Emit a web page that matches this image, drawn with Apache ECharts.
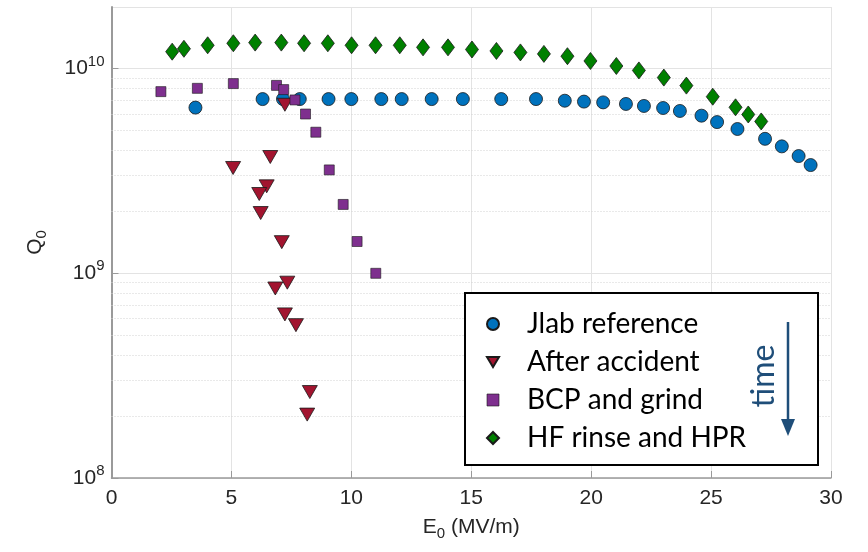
<!DOCTYPE html>
<html>
<head>
<meta charset="utf-8">
<script src="https://cdn.jsdelivr.net/npm/echarts@6/dist/echarts.min.js"></script>
<style>
  html, body { margin: 0; padding: 0; background: #fff; }
  #chart { width: 868px; height: 552px; }
</style>
</head>
<body>
<div id="chart"></div>
<script>
// E0 (MV/m) and Q0
const jlabE = [3.5, 6.3, 7.15, 7.85, 9.05, 10.0, 11.25, 12.1, 13.35, 14.65, 16.25, 17.7, 18.9, 19.7, 20.5, 21.45, 22.2, 23.0, 23.7, 24.6, 25.25, 26.1, 27.25, 27.95, 28.65, 29.15]
const jlabQ = [6.45e9, 7.1e9, 7.1e9, 7.1e9, 7.1e9, 7.1e9, 7.1e9, 7.1e9, 7.1e9, 7.1e9, 7.1e9, 7.1e9, 6.97e9, 6.9e9, 6.84e9, 6.72e9, 6.57e9, 6.42e9, 6.21e9, 5.89e9, 5.48e9, 5.07e9, 4.54e9, 4.17e9, 3.74e9, 3.38e9]

const accE = [5.07, 6.62, 6.47, 6.16, 6.22, 7.23, 7.10, 7.33, 6.83, 7.23, 7.69, 8.27, 8.16]
const accQ = [3.27e9, 3.70e9, 2.66e9, 2.44e9, 1.97e9, 6.66e9, 1.42e9, 9.0e8, 8.43e8, 6.30e8, 5.58e8, 2.63e8, 2.04e8]

const bcpE = [2.06, 3.58, 5.08, 6.88, 7.18, 7.65, 8.09, 8.52, 9.08, 9.66, 10.24, 11.02]
const bcpQ = [7.72e9, 8.01e9, 8.45e9, 8.28e9, 7.9e9, 7.03e9, 6.0e9, 4.89e9, 3.2e9, 2.17e9, 1.43e9, 1.0e9]

const hfE = [2.53, 3.02, 4.01, 5.08, 5.99, 7.08, 8.03, 9.02, 10.01, 11.01, 12.02, 12.99, 14.03, 15.03, 16.05, 17.05, 18.03, 19.01, 19.97, 21.05, 21.99, 23.03, 23.97, 25.07, 26.02, 26.55, 27.09]
const hfQ = [1.21e10, 1.25e10, 1.30e10, 1.33e10, 1.34e10, 1.34e10, 1.33e10, 1.33e10, 1.30e10, 1.30e10, 1.30e10, 1.27e10, 1.27e10, 1.24e10, 1.22e10, 1.20e10, 1.18e10, 1.15e10, 1.09e10, 1.03e10, 9.8e9, 9.04e9, 8.26e9, 7.29e9, 6.47e9, 5.97e9, 5.52e9]

const seriesNames = ['Jlab reference', 'After accident', 'BCP and grind', 'HF rinse and HPR']

// minor grid lines of the log axis (2..9 in each decade)
const decades = [1e8, 1e9, 1e10]
const minorSteps = [2, 3, 4, 5, 6, 7, 8, 9]

const font = 'Liberation Sans, Arial, sans-serif'
const ink = '#262626'
const zip = (xs, ys) => xs.map((x, i) => [x, ys[i]])

const minorLines = []
decades.forEach(d => minorSteps.forEach(m => {
  if (d * m < 2e10) minorLines.push({ yAxis: d * m })
}))

// rich styles for "X_0" axis names: padding on top pushes the subscript down
const subName = {
  a: { fontFamily: font, fontSize: 21, color: ink, lineHeight: 22 },
  sub: { fontFamily: font, fontSize: 15, color: ink, lineHeight: 15, padding: [12, 0, 0, 0] }
}

const chart = echarts.init(document.getElementById('chart'))

const option = {
  animation: false,
  grid: { left: 111.5, right: 37, top: 7, bottom: 74 },
  xAxis: {
    type: 'value',
    min: 0, max: 30, interval: 5,
    name: '{a|E}{sub|0}{a| (MV/m)}',
    nameLocation: 'middle',
    nameGap: 30,
    nameTextStyle: { rich: subName },
    axisLine: { lineStyle: { color: '#9a9a9a', width: 1.5 } },
    axisTick: { inside: true, length: 7, lineStyle: { color: '#9a9a9a' } },
    axisLabel: { fontFamily: font, fontSize: 21, color: ink, margin: 10 },
    splitLine: { show: true, lineStyle: { color: '#e3e3e3', width: 1 } }
  },
  yAxis: {
    type: 'log',
    logBase: 10,
    min: 1e8, max: 2e10, interval: 1,
    name: '{a|Q}{sub|0}',
    nameLocation: 'middle',
    nameGap: 65,
    nameTextStyle: { rich: subName },
    axisLine: { show: true, lineStyle: { color: '#9a9a9a', width: 2 } },
    axisTick: { inside: true, length: 7, lineStyle: { color: '#9a9a9a' } },
    axisLabel: {
      showMaxLabel: false,
      margin: 7,
      formatter: v => {
        const e = Math.round(Math.log10(v))
        if (Math.abs(v - Math.pow(10, e)) > 1e-6 * v) return ''
        return '{b|10}{s|' + e + '}'
      },
      rich: {
        b: { fontFamily: font, fontSize: 21, color: ink, lineHeight: 22 },
        s: { fontFamily: font, fontSize: 15, color: ink, lineHeight: 15, padding: [0, 0, 14, 0] }
      }
    },
    splitLine: { show: true, lineStyle: { color: '#e3e3e3', width: 1 } }
  },
  legend: {
    orient: 'vertical',
    left: 481,
    top: 305,
    itemWidth: 12,
    itemHeight: 12,
    itemGap: 10,
    z: 10,
    data: [
      { name: seriesNames[0], icon: 'circle' },
      { name: seriesNames[1], icon: 'path://M0,0 L12,0 L6,10 Z' },
      { name: seriesNames[2], icon: 'rect', itemStyle: { borderWidth: 0.6 } },
      { name: seriesNames[3], icon: 'diamond' }
    ],
    textStyle: {
      fontFamily: 'Lato, Open Sans, sans-serif',
      fontSize: 28,
      color: '#000',
      lineHeight: 28,
      padding: [0, 0, 0, 23]
    }
  },
  graphic: [
    {
      type: 'rect', z: 5,
      shape: { x: 465, y: 293, width: 353, height: 172 },
      style: { fill: '#fff', stroke: '#000', lineWidth: 2 }
    },
    {
      type: 'text', z: 11,
      x: 764, y: 376, rotation: Math.PI / 2,
      style: {
        text: 'time', fill: '#1f4e79',
        font: '32px Lato, "Open Sans", sans-serif',
        align: 'center', verticalAlign: 'middle'
      }
    },
    {
      type: 'line', z: 11,
      shape: { x1: 788, y1: 322, x2: 788, y2: 424 },
      style: { stroke: '#1f4e79', lineWidth: 2.5 }
    },
    {
      type: 'polygon', z: 11,
      shape: { points: [[781, 419], [795, 419], [788, 436]] },
      style: { fill: '#1f4e79' }
    }
  ],
  series: [
    {
      name: seriesNames[0],
      type: 'scatter',
      symbol: 'circle',
      symbolSize: 13,
      itemStyle: { color: '#0072BD', opacity: 1, borderColor: '#1a1a1a', borderWidth: 0.8 },
      data: zip(jlabE, jlabQ),
      markLine: {
        silent: true,
        symbol: 'none',
        label: { show: false },
        lineStyle: { color: '#d2d2d2', type: [1, 2], width: 1 },
        data: minorLines,
        z: 1
      }
    },
    {
      name: seriesNames[1],
      type: 'scatter',
      symbol: 'triangle',
      symbolRotate: 180,
      symbolSize: [15, 13],
      itemStyle: { color: '#A2142F', opacity: 1, borderColor: '#1a1a1a', borderWidth: 0.8 },
      data: zip(accE, accQ)
    },
    {
      name: seriesNames[2],
      type: 'scatter',
      symbol: 'rect',
      symbolSize: 10,
      itemStyle: { color: '#7E2F8E', opacity: 1, borderColor: '#1a1a1a', borderWidth: 0.6 },
      data: zip(bcpE, bcpQ)
    },
    {
      name: seriesNames[3],
      type: 'scatter',
      symbol: 'diamond',
      symbolSize: [13, 17],
      itemStyle: { color: '#008000', opacity: 1, borderColor: '#1a1a1a', borderWidth: 0.8 },
      data: zip(hfE, hfQ)
    }
  ]
}

chart.setOption(option)
</script>
</body>
</html>
